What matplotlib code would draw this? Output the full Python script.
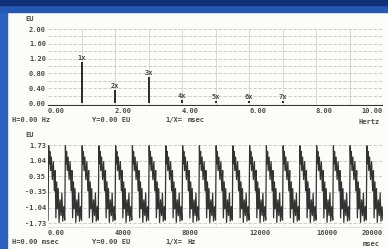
import numpy as np
import matplotlib
matplotlib.use("Agg")
import matplotlib.pyplot as plt
from matplotlib.patches import Rectangle

# spectrum: harmonic order, frequency (Hz), amplitude (EU)
harm_labels = ["1x", "2x", "3x", "4x", "5x", "6x", "7x"]
harm_freq = [1.0, 2.0, 3.0, 4.0, 5.0, 6.0, 7.0]
harm_amp = [1.10, 0.34, 0.71, 0.08, 0.06, 0.06, 0.05]

spec_yticks = [0.00, 0.40, 0.80, 1.20, 1.60, 2.00]
spec_xticks = [0, 2, 4, 6, 8, 10]
spec_xlabels = ["0.00", "2.00", "4.00", "6.00", "8.00", "10.00"]

# time signal: one period (1000 msec), 20 periods shown
cycle_t = [0, 40, 70, 110, 150, 200, 260, 320, 380, 430, 470, 520, 560,
           610, 660, 720, 780, 830, 880, 940]
cycle_v = [-1.60, 1.70, 0.90, 1.45, 0.60, 1.20, 0.20, 1.00, -0.30, 0.60,
           -1.50, 0.10, -1.10, -0.20, -1.70, -0.70, -1.40, -0.40, -1.65, -1.00]
n_cycles = 20

wave_yticks = [-1.73, -1.04, -0.35, 0.35, 1.04, 1.73]
wave_ylabels = ["-1.73", "-1.04", "-0.35", "0.35", "1.04", "1.73"]
wave_xticks = [0, 4000, 8000, 12000, 16000, 20000]
wave_xlabels = ["0.00", "4000", "8000", "12000", "16000", "20000"]

W, H = 388, 249
fig = plt.figure(figsize=(W / 100, H / 100), dpi=100)
fig.patch.set_facecolor("#fcfcf9")


def fx(x):
    return x / W


def fy(y):
    return 1 - y / H


# blue screen frame (left and top)
fig.patches.append(Rectangle((0, 0), fx(7), 1, transform=fig.transFigure,
                             color="#2a62c0", zorder=0))
fig.patches.append(Rectangle((0, fy(12)), 1, fy(0) - fy(12), transform=fig.transFigure,
                             color="#2458b4", zorder=0))
fig.patches.append(Rectangle((0, fy(5)), 1, fy(0) - fy(5), transform=fig.transFigure,
                             color="#0f2f78", zorder=0))

txt = dict(fontsize=5.0, color="#4a4a4a", fontweight="bold", family="DejaVu Sans Mono")


def left_ticks(ax, labels):
    # labels start at their tick, the last one ends at the axis edge
    for i, lab in enumerate(ax.get_xticklabels()):
        lab.set_ha("right" if i == len(labels) - 1 else "left")


# ---- spectrum panel ----
ax1 = fig.add_axes([fx(48), fy(106), fx(383) - fx(48), fy(29) - fy(106)])
ax1.set_facecolor("none")
ax1.set_xlim(0, 10)
ax1.set_ylim(-0.08, 2.0)
for y in np.arange(0.2, 2.01, 0.2):
    ax1.axhline(y, color="#c4c4c4", lw=0.6, ls=(0, (4, 2)), zorder=1)
for x in range(1, 11):
    ax1.axvline(x, color="#cccccc", lw=0.5, zorder=1)
ax1.vlines(harm_freq, 0, harm_amp, color="#2a2a2a", lw=1.4, zorder=3)
for lab, f, a in zip(harm_labels, harm_freq, harm_amp):
    ax1.text(f, a + 0.03, lab, ha="center", va="bottom", zorder=4, **txt)
ax1.axhline(-0.08, color="#333333", lw=1.5, zorder=3)
for s in ax1.spines.values():
    s.set_visible(False)
ax1.set_yticks(spec_yticks)
ax1.set_yticklabels(["%.2f" % v for v in spec_yticks], **txt)
ax1.set_xticks(spec_xticks)
ax1.set_xticklabels(spec_xlabels, **txt)
left_ticks(ax1, spec_xlabels)
ax1.tick_params(length=0, pad=1.5)
fig.text(fx(25), fy(19), "EU", va="center", **txt)
fig.text(fx(12), fy(120), "H=0.00 Hz", va="center", **txt)
fig.text(fx(92), fy(120), "Y=0.00 EU", va="center", **txt)
fig.text(fx(165), fy(120), "1/X=", va="center", **txt)
fig.text(fx(188), fy(120), "msec", va="center", **txt)
fig.text(fx(380), fy(122), "Hertz", va="center", ha="right", **txt)

# ---- time waveform panel ----
t_all = []
v_all = []
for k in range(n_cycles):
    t_all += [k * 1000 + t for t in cycle_t]
    v_all += cycle_v
t_all.append(n_cycles * 1000)
v_all.append(cycle_v[0])

ax2 = fig.add_axes([fx(48), fy(228), fx(383) - fx(48), fy(144) - fy(228)])
ax2.set_facecolor("none")
ax2.set_xlim(0, 20000)
ax2.set_ylim(-1.95, 1.78)
for y in wave_yticks:
    ax2.axhline(y, color="#c4c4c4", lw=0.6, ls=(0, (4, 2)), zorder=1)
for x in range(2000, 20001, 2000):
    ax2.axvline(x, color="#cccccc", lw=0.5, ls=(0, (1, 1.5)), zorder=1)
ax2.plot(t_all, v_all, color="#333333", lw=0.9, zorder=3)
ax2.axhline(-1.95, color="#777777", lw=1.0, zorder=3)
for s in ax2.spines.values():
    s.set_visible(False)
ax2.set_yticks(wave_yticks)
ax2.set_yticklabels(wave_ylabels, **txt)
ax2.set_xticks(wave_xticks)
ax2.set_xticklabels(wave_xlabels, **txt)
left_ticks(ax2, wave_xlabels)
ax2.tick_params(length=0, pad=1.5)
fig.text(fx(25), fy(135), "EU", va="center", **txt)
fig.text(fx(12), fy(242), "H=0.00 msec", va="center", **txt)
fig.text(fx(92), fy(242), "Y=0.00 EU", va="center", **txt)
fig.text(fx(165), fy(242), "1/X=", va="center", **txt)
fig.text(fx(188), fy(242), "Hz", va="center", **txt)
fig.text(fx(380), fy(244), "msec", va="center", ha="right", **txt)

fig.savefig("out.png", dpi=100, facecolor=fig.get_facecolor())
